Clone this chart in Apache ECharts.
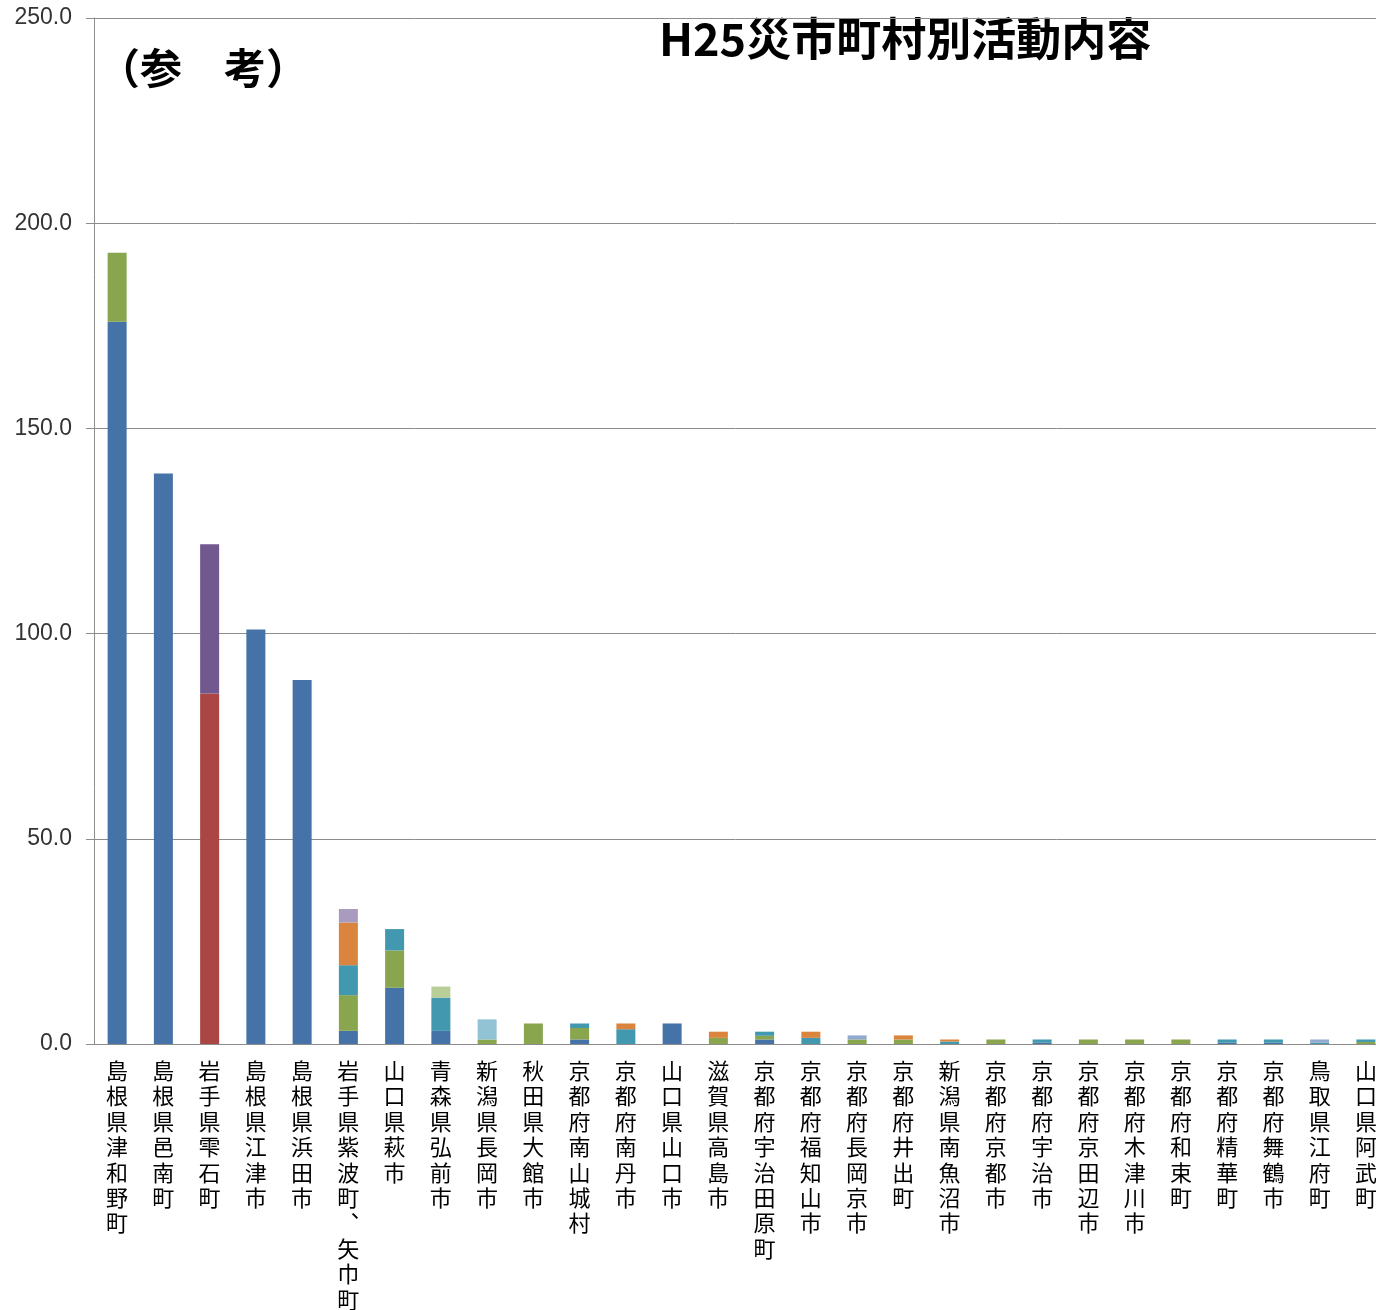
<!DOCTYPE html>
<html>
<head>
<meta charset="utf-8">
<script src="https://cdn.jsdelivr.net/npm/echarts@6/dist/echarts.min.js"></script>
<style>
  html, body { margin: 0; padding: 0; background: #fff; }
  #chart { width: 1376px; height: 1310px; }
</style>
</head>
<body>
<div id="chart"></div>
<script>
var categories = ['島根県津和野町', '島根県邑南町', '岩手県雫石町', '島根県江津市', '島根県浜田市',
    '岩手県紫波町、矢巾町', '山口県萩市', '青森県弘前市', '新潟県長岡市', '秋田県大館市',
    '京都府南山城村', '京都府南丹市', '山口県山口市', '滋賀県高島市', '京都府宇治田原町',
    '京都府福知山市', '京都府長岡京市', '京都府井出町', '新潟県南魚沼市', '京都府京都市',
    '京都府宇治市', '京都府京田辺市', '京都府木津川市', '京都府和束町', '京都府精華町',
    '京都府舞鶴市', '鳥取県江府町', '山口県阿武町'];

var yTicks = [0, 50, 100, 150, 200, 250];

// segment values, one array per series (bottom to top)
var s1  = [176, 139, 0, 101, 88.7, 3.2, 13.7, 3.2, 0, 0, 1.1, 0, 5.0, 0, 1.1, 0, 0, 0, 0, 0, 0.3, 0, 0, 0, 0.3, 0.3, 0, 0];
var s2  = [0, 0, 85.4, 0, 0, 0, 0, 0, 0, 0, 0, 0, 0, 0, 0, 0, 0, 0, 0, 0, 0, 0, 0, 0, 0, 0, 0, 0];
var s3  = [16.8, 0, 0, 0, 0, 8.7, 9.1, 0, 1.1, 5.0, 2.8, 0, 0, 1.5, 0.9, 0, 1.1, 1.1, 0, 1.1, 0, 1.1, 1.1, 1.1, 0, 0, 0, 0.5];
var s4  = [0, 0, 36.4, 0, 0, 0, 0, 0, 0, 0, 0, 0, 0, 0, 0, 0, 0, 0, 0, 0, 0, 0, 0, 0, 0, 0, 0, 0];
var s5  = [0, 0, 0, 0, 0, 7.3, 5.2, 8.1, 0, 0, 1.1, 3.6, 0, 0, 1.0, 1.5, 0, 0, 0.6, 0, 0.8, 0, 0, 0, 0.8, 0.8, 0.3, 0.6];
var s6  = [0, 0, 0, 0, 0, 10.4, 0, 0, 0, 0, 0, 1.4, 0, 1.5, 0, 1.5, 0, 1.0, 0.5, 0, 0, 0, 0, 0, 0, 0, 0, 0];
var s7  = [0, 0, 0, 0, 0, 0, 0, 0, 0, 0, 0, 0, 0, 0, 0, 0, 1.0, 0, 0, 0, 0, 0, 0, 0, 0, 0, 0.8, 0];
var s9  = [0, 0, 0, 0, 0, 0, 0, 2.7, 0, 0, 0, 0, 0, 0, 0, 0, 0, 0, 0, 0, 0, 0, 0, 0, 0, 0, 0, 0];
var s10 = [0, 0, 0, 0, 0, 3.3, 0, 0, 0, 0, 0, 0, 0, 0, 0, 0, 0, 0, 0, 0, 0, 0, 0, 0, 0, 0, 0, 0];
var s11 = [0, 0, 0, 0, 0, 0, 0, 0, 4.9, 0, 0, 0, 0, 0, 0, 0, 0, 0, 0, 0, 0, 0, 0, 0, 0, 0, 0, 0];

var seriesList = [
    { name: '系列1', data: s1, color: '#4572A7' },
    { name: '系列2', data: s2, color: '#AA4643' },
    { name: '系列3', data: s3, color: '#89A54E' },
    { name: '系列4', data: s4, color: '#71588F' },
    { name: '系列5', data: s5, color: '#4198AF' },
    { name: '系列6', data: s6, color: '#DB843D' },
    { name: '系列7', data: s7, color: '#93A9CF' },
    { name: '系列9', data: s9, color: '#B9CD96' },
    { name: '系列10', data: s10, color: '#A99BBD' },
    { name: '系列11', data: s11, color: '#91C3D5' }
];

var myChart = echarts.init(document.getElementById('chart'));
var jp = '"Noto Sans CJK JP", sans-serif';

// vertical label: one character per line, vertical form of the comma
function verticalLabel(v) {
    return v.replace(/、/g, '︑').split('').join('\n');
}

myChart.setOption({
    backgroundColor: '#ffffff',
    animation: false,
    graphic: [
        {
            type: 'text', left: 98, top: 47,
            style: { text: '（参　考）', font: 'bold 42px ' + jp, fill: '#000' }
        },
        {
            type: 'text', left: 659, top: 16,
            style: { text: 'H25災市町村別活動内容', font: 'bold 45px ' + jp, fill: '#000' }
        }
    ],
    grid: { left: 94, top: 18, width: 1295, bottom: 266, outerBoundsMode: 'none', containLabel: false },
    xAxis: {
        type: 'category',
        data: categories,
        axisLine: { lineStyle: { color: '#8c8c8c', width: 1 } },
        axisTick: { length: 9, lineStyle: { color: '#8c8c8c' } },
        axisLabel: {
            interval: 0,
            margin: 14,
            fontFamily: jp,
            fontSize: 22,
            lineHeight: 25.4,
            color: '#000',
            verticalAlign: 'top',
            formatter: verticalLabel
        }
    },
    yAxis: {
        type: 'value',
        min: 0,
        max: 250,
        interval: 50,
        axisLine: { show: true, lineStyle: { color: '#8c8c8c' } },
        axisTick: { show: true, length: 8, lineStyle: { color: '#8c8c8c' } },
        splitLine: { lineStyle: { color: '#8c8c8c' } },
        axisLabel: {
            margin: 22,
            fontFamily: '"Liberation Sans", sans-serif',
            fontSize: 23,
            color: '#333',
            formatter: function (v) { return yTicks.indexOf(v) >= 0 ? v.toFixed(1) : ''; }
        }
    },
    series: seriesList.map(function (s) {
        return {
            name: s.name,
            type: 'bar',
            stack: 'total',
            barWidth: 19,
            data: s.data,
            itemStyle: { color: s.color }
        };
    })
});
</script>
</body>
</html>
